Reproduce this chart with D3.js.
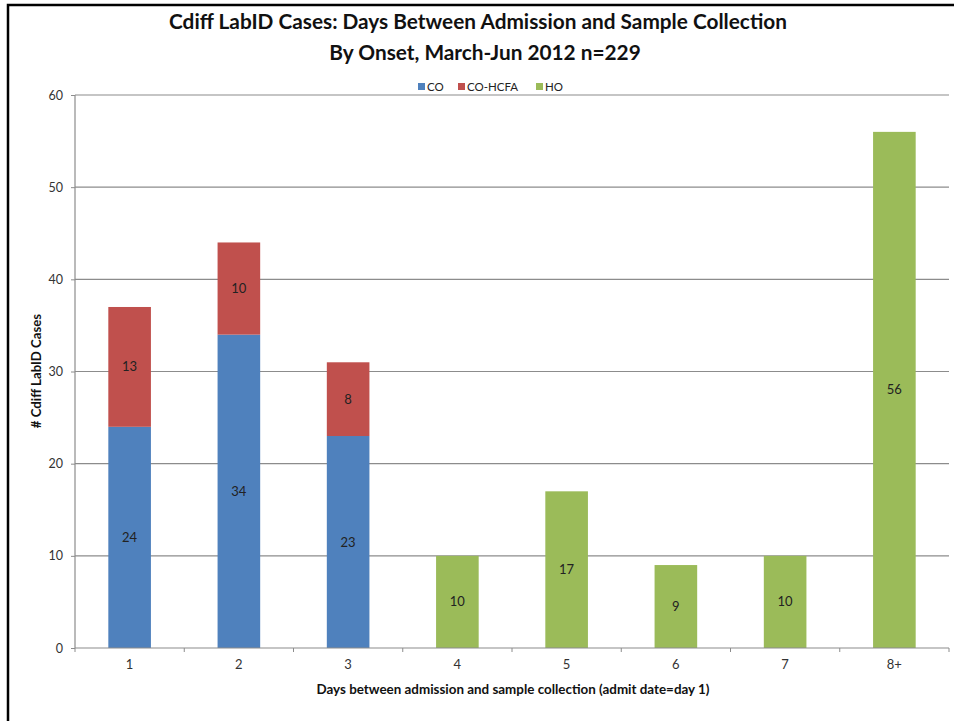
<!DOCTYPE html>
<html><head><meta charset="utf-8">
<script src="https://cdn.jsdelivr.net/npm/d3@7"></script>
<style>body{margin:0;background:#fff}svg{display:block}</style>
</head><body>
<svg id="c" width="954" height="721"></svg>
<script>
const categories = ["1","2","3","4","5","6","7","8+"];
const seriesNames = ["CO","CO-HCFA","HO"];
const coValues = [24,34,23,0,0,0,0,0];
const hcfaValues = [13,10,8,0,0,0,0,0];
const hoValues = [0,0,0,10,17,9,10,56];
const yTicks = [0,10,20,30,40,50,60];
const colors = ["#4F81BD","#C0504D","#9BBB59"];

const font = "Lato, 'Open Sans', sans-serif";
const svg = d3.select("#c");
const x = d3.scaleBand().domain(categories).range([75,949]).paddingInner(0.61).paddingOuter(0.305);
const xb = d3.scaleBand().domain(categories).range([75,949]);
const y = d3.scaleLinear().domain([0,60]).range([648,95]);

// frame
svg.append("path").attr("d","M8,721 V5 H954").attr("fill","none").attr("stroke","#000").attr("stroke-width",2.5);

// gridlines
svg.append("g").selectAll("line").data(yTicks.filter(d=>d>0)).join("line")
 .attr("x1",75).attr("x2",949).attr("y1",d=>y(d)).attr("y2",d=>y(d))
 .attr("stroke","#8c8c8c").attr("stroke-width",1.2);

// stacks
const table = categories.map((c,i)=>({cat:c,CO:coValues[i],"CO-HCFA":hcfaValues[i],HO:hoValues[i]}));
const stack = d3.stack().keys(seriesNames)(table);
stack.forEach((s,si)=>{
  const g = svg.append("g");
  g.selectAll("rect").data(s.filter(d=>d[1]-d[0]>0)).join("rect")
   .attr("x",d=>x(d.data.cat)).attr("width",x.bandwidth())
   .attr("y",d=>y(d[1])).attr("height",d=>y(d[0])-y(d[1]))
   .attr("fill",colors[si]);
  g.selectAll("text").data(s.filter(d=>d[1]-d[0]>0)).join("text")
   .attr("x",d=>x(d.data.cat)+x.bandwidth()/2).attr("y",d=>y((d[0]+d[1])/2)+4.5)
   .attr("text-anchor","middle").attr("font-family",font).attr("font-size",13)
   .attr("fill","#222").text(d=>d[1]-d[0]);
});

// y axis
const ya = svg.append("g").attr("transform","translate(75,0)")
 .call(d3.axisLeft(y).tickValues(yTicks).tickSize(4).tickPadding(8));
ya.select(".domain").attr("stroke","#8c8c8c").attr("stroke-width",1.2).attr("d","M0,95V648");
ya.selectAll(".tick line").attr("stroke","#8c8c8c");
ya.selectAll("text").attr("font-family",font).attr("font-size",12.5).attr("fill","#333");

// x axis
const xa = svg.append("g").attr("transform","translate(0,648)");
xa.append("line").attr("x1",75).attr("x2",949).attr("stroke","#8c8c8c").attr("stroke-width",1.2);
const bounds = categories.map(c=>xb(c)).concat([xb(categories[categories.length-1])+xb.bandwidth()]);
xa.selectAll("line.t").data(bounds).join("line").attr("class","t")
 .attr("x1",d=>d).attr("x2",d=>d).attr("y1",0).attr("y2",4).attr("stroke","#8c8c8c");
xa.selectAll("text").data(categories).join("text")
 .attr("x",d=>xb(d)+xb.bandwidth()/2).attr("y",21).attr("text-anchor","middle")
 .attr("font-family",font).attr("font-size",13).attr("fill","#333").text(d=>d);

// titles
svg.append("text").attr("x",478).attr("y",29).attr("text-anchor","middle")
 .attr("font-family",font).attr("font-weight","bold").attr("font-size",20.8).attr("fill","#111")
 .text("Cdiff LabID Cases: Days Between Admission and Sample Collection");
svg.append("text").attr("x",485).attr("y",60).attr("text-anchor","middle")
 .attr("font-family",font).attr("font-weight","bold").attr("font-size",20.8).attr("fill","#111")
 .text("By Onset, March-Jun 2012 n=229");
svg.append("text").attr("x",513).attr("y",694).attr("text-anchor","middle")
 .attr("font-family",font).attr("font-weight","bold").attr("font-size",13.4).attr("fill","#111")
 .text("Days between admission and sample collection (admit date=day 1)");
svg.append("text").attr("transform","translate(41,371) rotate(-90)").attr("text-anchor","middle")
 .attr("font-family",font).attr("font-weight","bold").attr("font-size",13.2).attr("fill","#111")
 .text("# Cdiff LabID Cases");

// legend
const legX=[418,458,536];
const lg = svg.append("g");
seriesNames.forEach((n,i)=>{
  lg.append("rect").attr("x",legX[i]).attr("y",83).attr("width",7).attr("height",7).attr("fill",colors[i]);
  lg.append("text").attr("x",legX[i]+9).attr("y",91).attr("font-family",font).attr("font-size",11.5).attr("fill","#222").text(n);
});
</script>
</body></html>
